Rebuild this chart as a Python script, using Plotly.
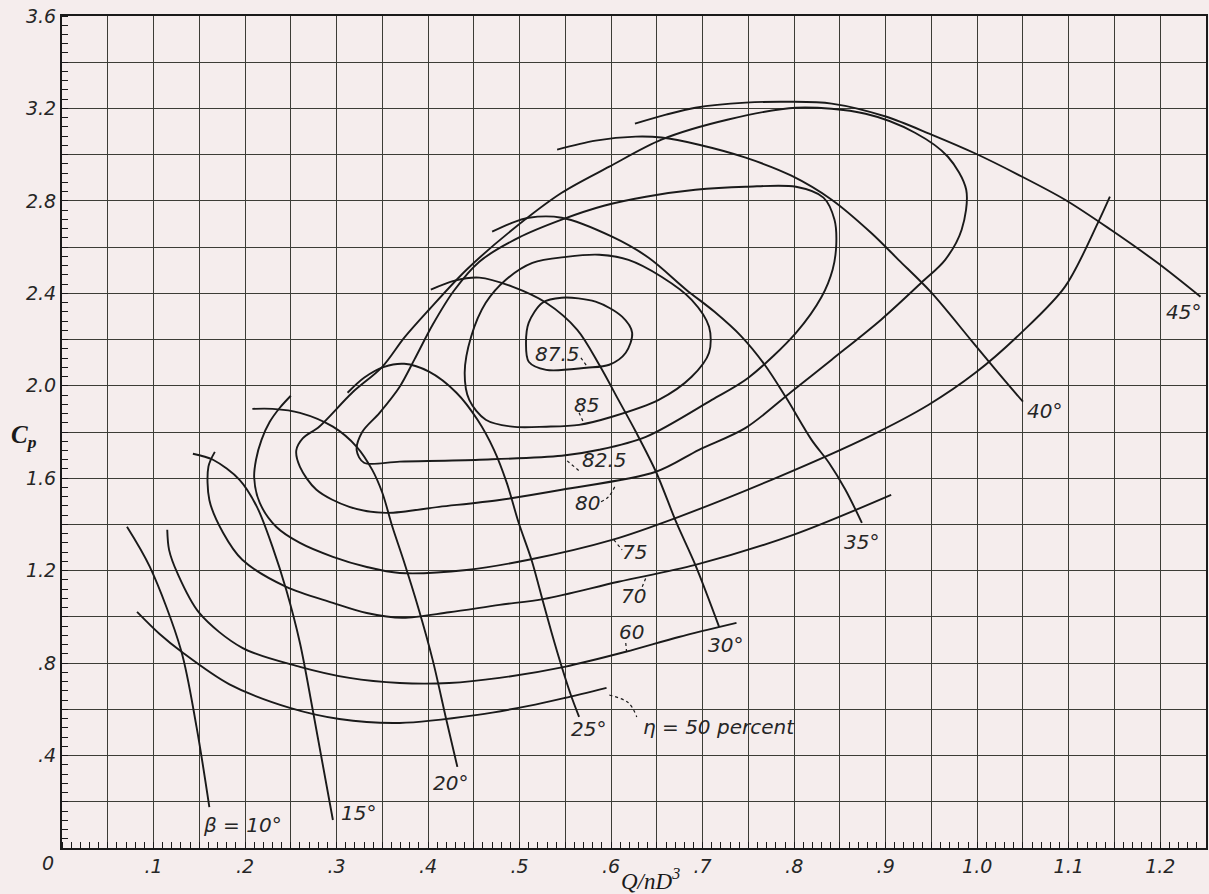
import plotly.graph_objects as go

# ---------------------------------------------------------------------------
# Efficiency contours (eta, percent): Q/nD^3 against power coefficient C_p
# ---------------------------------------------------------------------------
eta50_q = [0.082, 0.107, 0.131, 0.183, 0.249, 0.303, 0.369, 0.454, 0.510, 0.549, 0.595]
eta50_cp = [1.022, 0.925, 0.848, 0.708, 0.606, 0.558, 0.541, 0.576, 0.615, 0.649, 0.693]

eta60_q = [0.115, 0.117, 0.126, 0.150, 0.197, 0.260, 0.314, 0.369, 0.423,
           0.478, 0.549, 0.616, 0.674, 0.737]
eta60_cp = [1.377, 1.290, 1.190, 1.017, 0.866, 0.784, 0.736, 0.714, 0.714,
            0.736, 0.784, 0.849, 0.913, 0.974]

eta70_q = [0.167, 0.160, 0.161, 0.176, 0.197, 0.245, 0.296, 0.333, 0.372, 0.423, 0.478,
           0.527, 0.608, 0.692, 0.799, 0.906]
eta70_cp = [1.714, 1.650, 1.506, 1.364, 1.247, 1.130, 1.061, 1.017, 0.996, 1.020, 1.052,
            1.078, 1.152, 1.225, 1.355, 1.528]

eta75_q = [0.250, 0.238, 0.227, 0.218, 0.212, 0.210, 0.216, 0.234, 0.260, 0.296, 0.333,
           0.369, 0.442, 0.510, 0.601, 0.674, 0.783, 0.881, 0.947, 0.998, 1.048, 1.096,
           1.132, 1.145]
eta75_cp = [1.957, 1.905, 1.844, 1.766, 1.680, 1.602, 1.494, 1.390, 1.320, 1.260, 1.216,
            1.190, 1.203, 1.247, 1.333, 1.433, 1.606, 1.779, 1.918, 2.056, 2.229, 2.429,
            2.706, 2.818]

eta80_q = [0.478, 0.412, 0.354, 0.314, 0.278, 0.260, 0.256, 0.263, 0.281, 0.317, 0.350,
           0.374, 0.401, 0.442, 0.492, 0.546, 0.598, 0.655, 0.728, 0.802, 0.878, 0.932,
           0.968, 0.988, 0.983, 0.965, 0.939, 0.895, 0.841, 0.797, 0.747, 0.696, 0.649,
           0.546, 0.478]
eta80_cp = [1.506, 1.476, 1.450, 1.476, 1.550, 1.649, 1.720, 1.772, 1.823, 1.970, 2.082,
            2.208, 2.329, 2.502, 2.675, 2.835, 2.948, 3.065, 3.152, 3.203, 3.177, 3.095,
            2.991, 2.848, 2.675, 2.545, 2.446, 2.286, 2.113, 1.974, 1.818, 1.723, 1.628,
            1.550, 1.506]

eta825_q = [0.456, 0.369, 0.330, 0.322, 0.328, 0.347, 0.369, 0.385, 0.405, 0.428, 0.456,
            0.499, 0.546, 0.592, 0.638, 0.692, 0.747, 0.802, 0.832, 0.844, 0.846, 0.842,
            0.830, 0.802, 0.750, 0.710, 0.638, 0.587, 0.546, 0.456]
eta825_cp = [1.680, 1.672, 1.667, 1.720, 1.800, 1.883, 1.996, 2.113, 2.264, 2.410, 2.537,
             2.641, 2.719, 2.779, 2.818, 2.848, 2.861, 2.861, 2.814, 2.719, 2.610, 2.502,
             2.385, 2.229, 2.035, 1.939, 1.779, 1.723, 1.697, 1.680]

eta85_q = [0.529, 0.492, 0.463, 0.445, 0.440, 0.447, 0.463, 0.485, 0.514, 0.551, 0.587,
           0.619, 0.655, 0.688, 0.707, 0.707, 0.688, 0.652, 0.601, 0.565, 0.529]
eta85_cp = [1.823, 1.823, 1.853, 1.939, 2.056, 2.212, 2.359, 2.459, 2.532, 2.558, 2.567,
            2.545, 2.472, 2.372, 2.255, 2.143, 2.039, 1.939, 1.866, 1.831, 1.823]

eta875_q = [0.529, 0.510, 0.507, 0.510, 0.525, 0.546, 0.583, 0.612, 0.623, 0.616, 0.598,
            0.573, 0.529]
eta875_cp = [2.069, 2.104, 2.186, 2.273, 2.359, 2.381, 2.364, 2.299, 2.229, 2.143, 2.091,
             2.078, 2.069]

# ---------------------------------------------------------------------------
# Blade-angle lines (beta, degrees)
# ---------------------------------------------------------------------------
beta10_q = [0.071, 0.096, 0.130, 0.147, 0.161]
beta10_cp = [1.390, 1.216, 0.857, 0.524, 0.177]

beta15_q = [0.143, 0.165, 0.194, 0.213, 0.230, 0.245, 0.260, 0.274, 0.296]
beta15_cp = [1.706, 1.680, 1.593, 1.476, 1.303, 1.117, 0.887, 0.597, 0.121]

beta20_q = [0.208, 0.230, 0.260, 0.296, 0.322, 0.339, 0.350, 0.361, 0.373, 0.390, 0.405,
            0.420, 0.432]
beta20_cp = [1.900, 1.900, 1.883, 1.823, 1.736, 1.636, 1.537, 1.390, 1.247, 1.030, 0.814,
             0.554, 0.351]

beta25_q = [0.312, 0.330, 0.352, 0.374, 0.401, 0.431, 0.454, 0.472, 0.486, 0.499, 0.513,
            0.525, 0.535, 0.546, 0.556, 0.565]
beta25_cp = [1.970, 2.035, 2.082, 2.095, 2.061, 1.970, 1.853, 1.723, 1.580, 1.407, 1.247,
             1.074, 0.931, 0.784, 0.662, 0.567]

beta30_q = [0.403, 0.429, 0.456, 0.492, 0.529, 0.563, 0.587, 0.608, 0.627, 0.649, 0.671,
            0.692, 0.718]
beta30_cp = [2.416, 2.455, 2.468, 2.429, 2.359, 2.242, 2.091, 1.939, 1.801, 1.628, 1.411,
             1.225, 0.957]

beta35_q = [0.470, 0.489, 0.510, 0.546, 0.601, 0.641, 0.682, 0.713, 0.742, 0.768, 0.791,
            0.819, 0.838, 0.856, 0.874]
beta35_cp = [2.667, 2.701, 2.727, 2.727, 2.645, 2.554, 2.416, 2.320, 2.215, 2.090, 1.950,
             1.766, 1.667, 1.550, 1.407]

beta40_q = [0.541, 0.583, 0.627, 0.655, 0.696, 0.747, 0.797, 0.841, 0.884, 0.914, 0.950,
            0.993, 1.023, 1.050]
beta40_cp = [3.022, 3.061, 3.078, 3.074, 3.043, 2.987, 2.909, 2.805, 2.662, 2.545, 2.403,
             2.199, 2.056, 1.931]

beta45_q = [0.626, 0.660, 0.692, 0.747, 0.794, 0.841, 0.900, 0.950, 0.998, 1.044, 1.096,
            1.146, 1.197, 1.244]
beta45_cp = [3.134, 3.173, 3.203, 3.225, 3.229, 3.221, 3.165, 3.087, 3.005, 2.915, 2.805,
             2.675, 2.532, 2.385]

# Axis tick labels
x_label_vals = [0.1, 0.2, 0.3, 0.4, 0.5, 0.6, 0.7, 0.8, 0.9, 1.0, 1.1, 1.2]
x_label_text = [".1", ".2", ".3", ".4", ".5", ".6", ".7", ".8", ".9", "1.0", "1.1", "1.2"]
y_label_vals = [0.4, 0.8, 1.2, 1.6, 2.0, 2.4, 2.8, 3.2, 3.6]
y_label_text = [".4", ".8", "1.2", "1.6", "2.0", "2.4", "2.8", "3.2", "3.6"]

# ---------------------------------------------------------------------------
BG = "#f5eded"
INK = "#1a1a1a"
GRID = "#3c3c36"
LABEL_FONT = dict(family="DejaVu Sans", size=20, color="#262626", style="italic")
TICK_FONT = dict(family="DejaVu Sans", size=19, color="#262626", style="italic")

fig = go.Figure()

curves = [
    (eta50_q, eta50_cp), (eta60_q, eta60_cp), (eta70_q, eta70_cp), (eta75_q, eta75_cp),
    (eta80_q, eta80_cp), (eta825_q, eta825_cp), (eta85_q, eta85_cp), (eta875_q, eta875_cp),
    (beta10_q, beta10_cp), (beta15_q, beta15_cp), (beta20_q, beta20_cp),
    (beta25_q, beta25_cp), (beta30_q, beta30_cp), (beta35_q, beta35_cp),
    (beta40_q, beta40_cp), (beta45_q, beta45_cp),
]
for q, cp in curves:
    fig.add_trace(go.Scatter(
        x=q, y=cp, mode="lines",
        line=dict(color=INK, width=1.9, shape="spline", smoothing=0.9),
        hoverinfo="skip", showlegend=False,
    ))

# Dotted leaders from curve labels to their contours
leaders = [
    ([0.567, 0.574], [2.121, 2.082]),
    ([0.565, 0.570], [1.883, 1.840]),
    ([0.552, 0.565], [1.675, 1.632]),
    ([0.589, 0.597, 0.605], [1.498, 1.519, 1.571]),
    ([0.603, 0.612], [1.333, 1.290]),
    ([0.634, 0.638], [1.130, 1.169]),
    ([0.616, 0.617], [0.887, 0.844]),
    ([0.598, 0.619, 0.628], [0.662, 0.628, 0.567]),
]
for lx, ly in leaders:
    fig.add_trace(go.Scatter(
        x=lx, y=ly, mode="lines",
        line=dict(color=INK, width=1.2, dash="dot", shape="spline"),
        hoverinfo="skip", showlegend=False,
    ))

# Curve labels
labels = [
    ("87.5", 0.541, 2.139), ("85", 0.573, 1.918), ("82.5", 0.593, 1.680),
    ("80", 0.574, 1.494), ("75", 0.625, 1.281), ("70", 0.624, 1.091),
    ("60", 0.622, 0.935), ("\u03b7 = 50 percent", 0.718, 0.524),
    ("\u03b2 = 10\u00b0", 0.197, 0.100), ("15\u00b0", 0.324, 0.152),
    ("20\u00b0", 0.424, 0.281), ("25\u00b0", 0.575, 0.515),
    ("30\u00b0", 0.725, 0.879), ("35\u00b0", 0.874, 1.325),
    ("40\u00b0", 1.074, 1.892), ("45\u00b0", 1.225, 2.320),
]
for text, lx, ly in labels:
    fig.add_annotation(x=lx, y=ly, text=text, showarrow=False,
                       xanchor="center", yanchor="middle", font=LABEL_FONT)

# Origin label and axis titles
fig.add_annotation(xref="paper", yref="paper", x=-0.012, y=-0.018, text="0",
                   showarrow=False, xanchor="center", yanchor="middle", font=TICK_FONT)
fig.add_annotation(xref="paper", x=-0.033, y=1.78, text="C<sub>p</sub>", showarrow=False,
                   xanchor="center", yanchor="middle",
                   font=dict(family="Liberation Serif", size=25, color=INK,
                             style="italic", weight="bold"))
fig.add_annotation(x=0.643, yref="paper", y=-0.038, text="Q/<i>n</i>D<sup>3</sup>",
                   showarrow=False, xanchor="center", yanchor="middle",
                   font=dict(family="Liberation Serif", size=23, color=INK, style="italic"))

# Grid every 0.05 on Q/nD^3 and every 0.2 on C_p; labels on every other line
x_grid = [round(0.05 * i, 2) for i in range(26)]
x_text = []
for v in x_grid:
    match = [t for lv, t in zip(x_label_vals, x_label_text) if abs(lv - v) < 1e-6]
    x_text.append(match[0] if match else "")
y_grid = [round(0.2 * i, 1) for i in range(19)]
y_text = []
for v in y_grid:
    match = [t for lv, t in zip(y_label_vals, y_label_text) if abs(lv - v) < 1e-6]
    y_text.append(match[0] if match else "")

axis_common = dict(
    showgrid=True, gridcolor=GRID, gridwidth=1.4,
    showline=True, linecolor=INK, linewidth=2, mirror=True,
    ticks="", zeroline=False, tickfont=TICK_FONT, fixedrange=True,
)
fig.update_xaxes(
    range=[0, 1.25], tickmode="array", tickvals=x_grid, ticktext=x_text,
    minor=dict(tickmode="array", tickvals=[i / 100 for i in range(126)],
               ticks="inside", ticklen=6, tickwidth=1.3, tickcolor=INK, showgrid=False),
    **axis_common,
)
fig.update_yaxes(
    range=[0, 3.6], tickmode="array", tickvals=y_grid, ticktext=y_text,
    minor=dict(tickmode="array", tickvals=[round(i * 0.04, 2) for i in range(91)],
               ticks="inside", ticklen=6, tickwidth=1.3, tickcolor=INK, showgrid=False),
    **axis_common,
)

fig.update_layout(
    width=1209, height=894,
    margin=dict(l=62, r=1, t=16, b=46),
    paper_bgcolor=BG, plot_bgcolor=BG,
    showlegend=False,
)

fig.write_html("out.html", config={"displayModeBar": False})
